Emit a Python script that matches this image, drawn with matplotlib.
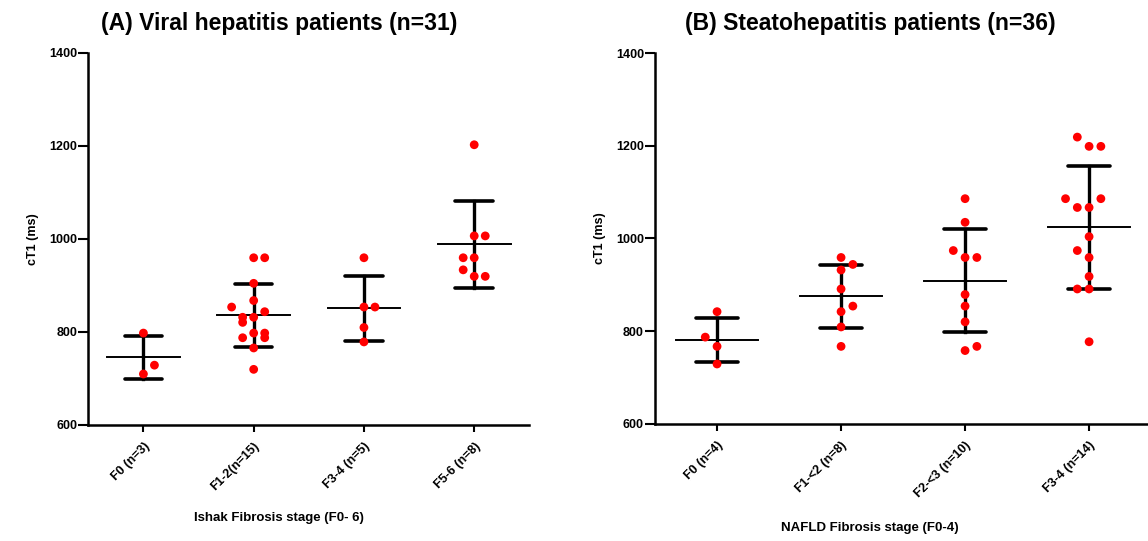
import numpy as np
import matplotlib.pyplot as plt

plt.rcParams['font.family'] = ['Liberation Sans', 'DejaVu Sans']
plt.rcParams['font.weight'] = 'bold'

# === Panel A: viral hepatitis ===
labels_a = ["F0 (n=3)", "F1-2(n=15)", "F3-4 (n=5)", "F5-6 (n=8)"]
ct1_a = [
    [797, 728, 709],
    [959, 959, 904, 867, 853, 843, 831, 831, 820, 797, 797, 787, 787, 765, 719],
    [959, 853, 853, 809, 778],
    [1202, 1006, 1006, 959, 959, 933, 919, 919],
]
mean_a = [745, 835, 850, 988]
sd_a = [46, 67, 69, 93]

# === Panel B: steatohepatitis ===
labels_b = ["F0 (n=4)", "F1-<2 (n=8)", "F2-<3 (n=10)", "F3-4 (n=14)"]
ct1_b = [
    [842, 787, 767, 729],
    [959, 944, 932, 891, 854, 842, 809, 767],
    [1086, 1035, 974, 959, 959, 879, 854, 820, 767, 758],
    [1219, 1199, 1199, 1086, 1086, 1067, 1067, 1004, 974, 959, 918, 891, 891, 777],
]
mean_b = [781, 875, 909, 1024]
sd_b = [47, 68, 111, 132]

# column slots of the scatter (horizontal spread of the dots)
slots_a = [
    [0, 1, 0],
    [0, 1, 0, 0, -2, 1, -1, 0, -1, 0, 1, -1, 1, 0, 0],
    [0, 0, 1, 0, 0],
    [0, 0, 1, -1, 0, -1, 0, 1],
]
slots_b = [
    [0, -1, 0, 0],
    [0, 1, 0, 0, 1, 0, 0, 0],
    [0, 0, -1, 0, 1, 0, 0, 0, 1, 0],
    [-1, 0, 1, -2, 1, -1, 0, 0, -1, 0, 0, -1, 0, 0],
]

fig = plt.figure(figsize=(11.48, 5.41), dpi=100)
ax_a = fig.add_axes([0.0769, 0.215, 0.3842, 0.6876])
ax_b = fig.add_axes([0.5706, 0.2168, 0.4321, 0.6847])


def draw_panel(ax, labels, values, slots, means, sds, step):
    for i, (v, s) in enumerate(zip(values, slots)):
        m, sd = means[i], sds[i]
        ax.plot([i, i], [m - sd, m + sd], color="black", lw=2.4, zorder=2)
        for y in (m - sd, m + sd):
            ax.plot([i - 0.17, i + 0.17], [y, y], color="black", lw=2.6,
                    solid_capstyle="round", zorder=2)
        ax.plot([i - 0.33, i + 0.33], [m, m], color="black", lw=1.4, zorder=2)
        xs = i + np.array(s) * step
        ax.scatter(xs, v, s=40, color="red", edgecolors="none", zorder=3)
    ax.set_xlim(-0.5, 3.5)
    ax.set_ylim(600, 1400)
    ax.set_yticks([600, 800, 1000, 1200, 1400])
    ax.set_xticks(range(4))
    ax.set_xticklabels(labels, rotation=45, ha="right", va="top",
                       rotation_mode="anchor", fontsize=9, fontweight="bold")
    ax.tick_params(axis="y", labelsize=9, width=1.5, length=7, pad=1)
    ax.tick_params(axis="x", width=1.5, length=5, pad=6)
    for lab in ax.get_yticklabels():
        lab.set_fontweight("bold")
    for sp in ("top", "right"):
        ax.spines[sp].set_visible(False)
    for sp in ("left", "bottom"):
        ax.spines[sp].set_linewidth(1.8)
    ax.set_ylabel("cT1 (ms)", fontsize=9, fontweight="bold", labelpad=7)


draw_panel(ax_a, labels_a, ct1_a, slots_a, mean_a, sd_a, 0.1)
draw_panel(ax_b, labels_b, ct1_b, slots_b, mean_b, sd_b, 0.095)

fig.text(279 / 1148, 1 - 30 / 541, "(A) Viral hepatitis patients (n=31)",
         ha="center", va="baseline", fontsize=16.5, fontweight="bold")
fig.text(870 / 1148, 1 - 30 / 541, "(B) Steatohepatitis patients (n=36)",
         ha="center", va="baseline", fontsize=16.5, fontweight="bold")
fig.text(279 / 1148, 1 - 518 / 541, "Ishak Fibrosis stage (F0- 6)",
         ha="center", va="center", fontsize=9.5, fontweight="bold")
fig.text(870 / 1148, 1 - 528 / 541, "NAFLD Fibrosis stage (F0-4)",
         ha="center", va="center", fontsize=9.5, fontweight="bold")

fig.savefig("out.png", dpi=100)
